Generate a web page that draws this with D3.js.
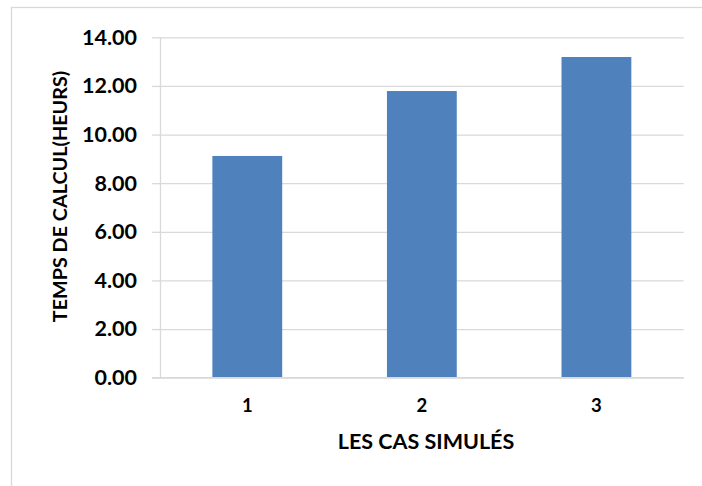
<!DOCTYPE html>
<html>
<head>
<meta charset="utf-8">
<script src="https://cdn.jsdelivr.net/npm/d3@7/dist/d3.min.js"></script>
<style>
  html, body { margin: 0; padding: 0; background: #fff; }
  svg { display: block; }
  text { font-family: Lato, "Open Sans", "Liberation Sans", sans-serif; font-weight: bold; fill: #000; }
</style>
</head>
<body>
<svg id="chart" width="702" height="486"></svg>
<script>
// Computation time per simulated case
const categories = ["1", "2", "3"];
const hours = [9.12, 11.79, 13.19];
const yTicks = [0, 2, 4, 6, 8, 10, 12, 14];
const xTitle = "LES CAS SIMULÉS";
const yTitle = "TEMPS DE CALCUL(HEURS)";

const W = 702, H = 486;
const plot = { left: 160, right: 683.7, top: 37.3, bottom: 377.7 };
const grid = "#d9d9d9";

const svg = d3.select("#chart");

// chart frame (extends past the visible area on the right and bottom)
svg.append("rect")
  .attr("x", 11.5).attr("y", 7.5)
  .attr("width", W + 20).attr("height", H + 20)
  .attr("fill", "#fff").attr("stroke", grid).attr("stroke-width", 1.3);

const x = d3.scaleBand()
  .domain(categories)
  .range([plot.left, plot.right])
  .paddingInner(0.6)
  .paddingOuter(0.3);

const y = d3.scaleLinear()
  .domain([0, 14])
  .range([plot.bottom, plot.top]);

// horizontal gridlines with short ticks to the left of the axis
const yAxis = d3.axisLeft(y)
  .tickValues(yTicks)
  .tickFormat(d3.format(".2f"))
  .tickSize(-(plot.right - plot.left))
  .tickSizeOuter(0)
  .tickPadding(23);

const gy = svg.append("g")
  .attr("transform", `translate(${plot.left},0)`)
  .call(yAxis);
gy.select(".domain").attr("stroke", grid).attr("stroke-width", 1.3);
gy.selectAll(".tick line").attr("stroke", grid).attr("stroke-width", 1.3);
gy.selectAll(".tick").append("line")
  .attr("x1", -8).attr("x2", 0)
  .attr("stroke", grid).attr("stroke-width", 1.3);
gy.selectAll(".tick text")
  .style("font-family", "Lato, 'Open Sans', sans-serif")
  .style("font-weight", "bold")
  .style("font-size", "21.5px")
  .attr("fill", "#000");

// bars
svg.append("g")
  .selectAll("rect")
  .data(hours)
  .join("rect")
  .attr("x", (d, i) => x(categories[i]))
  .attr("y", d => y(d))
  .attr("width", x.bandwidth())
  .attr("height", d => y(0) - y(d))
  .attr("fill", "#4f81bd");

// category axis
const xAxis = d3.axisBottom(x).tickSize(0).tickPadding(21);
const gx = svg.append("g")
  .attr("transform", `translate(0,${plot.bottom})`)
  .call(xAxis);
gx.select(".domain").attr("d", `M${plot.left - 8},0H${plot.right}`)
  .attr("stroke", grid).attr("stroke-width", 1.3);
gx.selectAll(".tick text")
  .style("font-family", "Lato, 'Open Sans', sans-serif")
  .style("font-weight", "bold")
  .style("font-size", "18.5px")
  .attr("fill", "#000");

// axis titles
svg.append("text")
  .attr("x", 426).attr("y", 449)
  .attr("text-anchor", "middle")
  .style("font-size", "21.5px")
  .text(xTitle);

svg.append("text")
  .attr("transform", "translate(67,196.5) rotate(-90)")
  .attr("text-anchor", "middle")
  .style("font-size", "19.8px")
  .text(yTitle);
</script>
</body>
</html>
